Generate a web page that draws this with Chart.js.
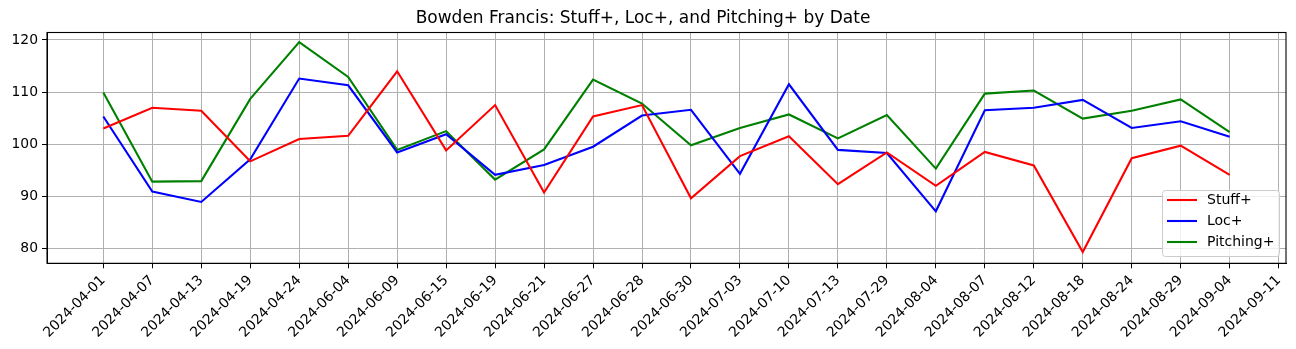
<!DOCTYPE html>
<html>
<head>
<meta charset="utf-8">
<script src="https://cdn.jsdelivr.net/npm/chart.js@4.4.1/dist/chart.umd.min.js"></script>
<style>
  html, body { margin: 0; padding: 0; background: #fff; }
  #wrap { width: 1296px; height: 349px; }
</style>
</head>
<body>
<div id="wrap"><canvas id="chart"></canvas></div>
<script>
const dates = ['2024-04-01', '2024-04-07', '2024-04-13', '2024-04-19', '2024-04-24', '2024-06-04',
  '2024-06-09', '2024-06-15', '2024-06-19', '2024-06-21', '2024-06-27', '2024-06-28', '2024-06-30',
  '2024-07-03', '2024-07-10', '2024-07-13', '2024-07-29', '2024-08-04', '2024-08-07', '2024-08-12',
  '2024-08-18', '2024-08-24', '2024-08-29', '2024-09-04', '2024-09-11'];

const stuffPlus = [103.0, 107.0, 106.4, 96.7, 101.0, 101.6, 114.0, 98.8, 107.5, 90.7, 105.3, 107.5,
  89.6, 97.7, 101.5, 92.3, 98.4, 92.0, 98.5, 95.9, 79.3, 97.3, 99.7, 94.1];
const locPlus = [105.3, 90.9, 88.9, 97.1, 112.6, 111.3, 98.4, 101.9, 94.1, 96.0, 99.5, 105.5,
  106.6, 94.3, 111.5, 98.9, 98.3, 87.1, 106.5, 107.0, 108.5, 103.1, 104.4, 101.4];
const pitchingPlus = [109.9, 92.8, 92.9, 108.7, 119.6, 112.9, 98.9, 102.5, 93.2, 99.0, 112.4, 107.8,
  99.8, 103.1, 105.7, 101.1, 105.6, 95.3, 109.7, 110.3, 104.9, 106.4, 108.6, 102.3];

const yTicks = [80, 90, 100, 110, 120];

const toPoints = arr => arr.map((v, i) => ({ x: i, y: v }));
const FONT = 'DejaVu Sans';

// matplotlib style frame + legend inside the axes
const framePlugin = {
  id: 'frame',
  afterDraw(chart) {
    const { ctx, chartArea: a } = chart;
    ctx.save();
    ctx.strokeStyle = '#000';
    ctx.lineWidth = 1.1;
    ctx.strokeRect(a.left, a.top, a.right - a.left, a.bottom - a.top);

    // legend box
    const x0 = 1162, y0 = 190, w = 117, h = 66;
    ctx.fillStyle = 'rgba(255,255,255,0.8)';
    ctx.strokeStyle = '#cccccc';
    ctx.lineWidth = 1;
    ctx.beginPath();
    ctx.roundRect(x0 + 0.5, y0 + 0.5, w, h, 3);
    ctx.fill();
    ctx.stroke();
    ctx.font = '14px "' + FONT + '"';
    ctx.textBaseline = 'middle';
    ctx.textAlign = 'left';
    chart.data.datasets.forEach((ds, i) => {
      const yy = y0 + 10 + i * 21;
      ctx.strokeStyle = ds.borderColor;
      ctx.lineWidth = 2.1;
      ctx.beginPath();
      ctx.moveTo(x0 + 5, yy);
      ctx.lineTo(x0 + 35, yy);
      ctx.stroke();
      ctx.fillStyle = '#000';
      ctx.fillText(ds.label, x0 + 45, yy);
    });
    ctx.restore();
  }
};

new Chart(document.getElementById('chart'), {
  type: 'line',
  data: {
    datasets: [
      { label: 'Stuff+', data: toPoints(stuffPlus), borderColor: '#ff0000' },
      { label: 'Loc+', data: toPoints(locPlus), borderColor: '#0000ff' },
      { label: 'Pitching+', data: toPoints(pitchingPlus), borderColor: '#008000' }
    ]
  },
  options: {
    responsive: true,
    maintainAspectRatio: false,
    animation: false,
    devicePixelRatio: 1,
    layout: { padding: { left: 0, right: 10, top: 0, bottom: 0 } },
    elements: {
      line: { borderWidth: 2.1, tension: 0, fill: false },
      point: { radius: 0, hoverRadius: 0 }
    },
    plugins: {
      legend: { display: false },
      tooltip: { enabled: false },
      title: {
        display: true,
        text: 'Bowden Francis: Stuff+, Loc+, and Pitching+ by Date',
        color: '#000',
        font: { family: FONT, size: 17, weight: 'normal', lineHeight: 1.2 },
        padding: { top: 8, bottom: 4.1 }
      }
    },
    scales: {
      x: {
        type: 'linear',
        min: -1.15,
        max: 24.15,
        afterBuildTicks: scale => { scale.ticks = dates.map((d, i) => ({ value: i })); },
        afterFit: scale => { scale.height = 85.7; },
        ticks: {
          autoSkip: false,
          maxRotation: 45,
          minRotation: 45,
          padding: 4,
          color: '#000',
          font: { family: FONT, size: 13.9 },
          callback: v => dates[v]
        },
        grid: { color: '#b0b0b0', lineWidth: 1, tickLength: 5, tickColor: '#000', drawTicks: true },
        border: { display: true, color: '#000', width: 1 }
      },
      y: {
        min: 77.12,
        max: 121.44,
        afterBuildTicks: scale => { scale.ticks = yTicks.map(v => ({ value: v })); },
        afterFit: scale => { scale.width = 47; },
        ticks: {
          color: '#000',
          padding: 4,
          font: { family: FONT, size: 13.9 }
        },
        grid: { color: '#b0b0b0', lineWidth: 1, tickLength: 5, tickColor: '#000', drawTicks: true },
        border: { display: true, color: '#000', width: 1 }
      }
    }
  },
  plugins: [framePlugin]
});
</script>
</body>
</html>
